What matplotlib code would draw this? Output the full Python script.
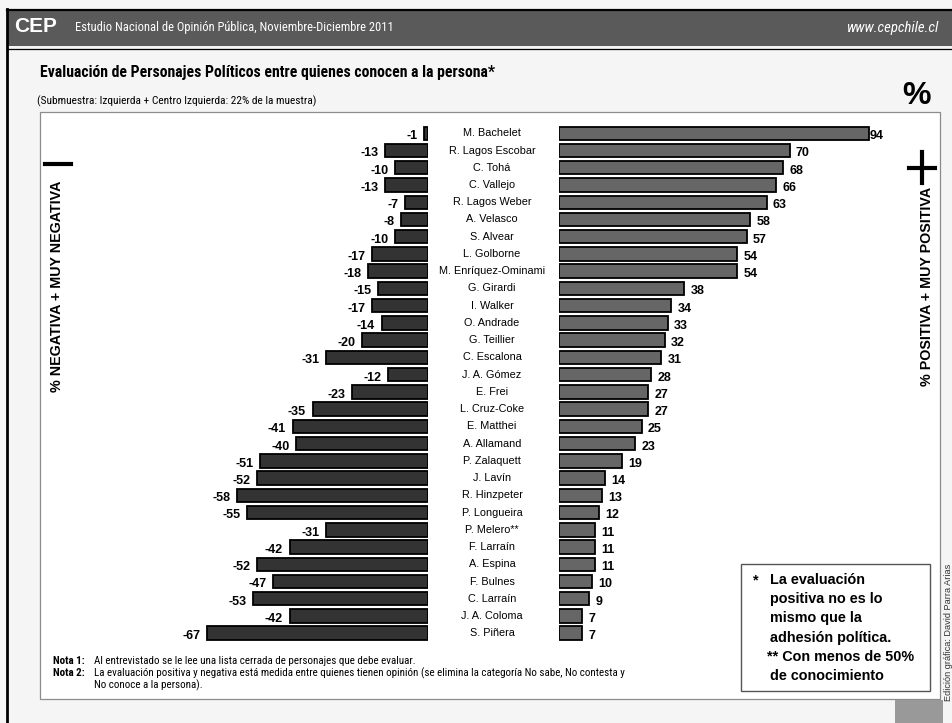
import matplotlib
matplotlib.use("Agg")
import matplotlib.pyplot as plt
from matplotlib import font_manager as fm
from matplotlib.patches import Rectangle
from matplotlib.lines import Line2D

W, H = 953, 723

names = ["M. Bachelet", "R. Lagos Escobar", "C. Tohá", "C. Vallejo", "R. Lagos Weber",
         "A. Velasco", "S. Alvear", "L. Golborne", "M. Enríquez-Ominami", "G. Girardi",
         "I. Walker", "O. Andrade", "G. Teillier", "C. Escalona", "J. A. Gómez",
         "E. Frei", "L. Cruz-Coke", "E. Matthei", "A. Allamand", "P. Zalaquett",
         "J. Lavín", "R. Hinzpeter", "P. Longueira", "P. Melero**", "F. Larraín",
         "A. Espina", "F. Bulnes", "C. Larraín", "J. A. Coloma", "S. Piñera"]
negativa = [-1, -13, -10, -13, -7, -8, -10, -17, -18, -15, -17, -14, -20, -31, -12,
            -23, -35, -41, -40, -51, -52, -58, -55, -31, -42, -52, -47, -53, -42, -67]
positiva = [94, 70, 68, 66, 63, 58, 57, 54, 54, 38, 34, 33, 32, 31, 28,
            27, 27, 25, 23, 19, 14, 13, 12, 11, 11, 11, 10, 9, 7, 7]

plt.rcParams["font.family"] = ["Liberation Sans", "DejaVu Sans"]

# look for a narrow face (the header/title/notes use Arial Narrow in the original)
avail = {f.name: f for f in fm.fontManager.ttflist}
narrow = {"family": ["Liberation Sans", "DejaVu Sans"]}
for cand in ["Liberation Sans Narrow", "Arial Narrow", "Roboto Condensed", "Open Sans Condensed",
             "DejaVu Sans Condensed"]:
    if cand in avail:
        narrow = {"family": [cand, "DejaVu Sans"]}
        break
else:
    for f in fm.fontManager.ttflist:
        if f.stretch in ("condensed", "semi-condensed") and f.name in ("Roboto", "Open Sans", "DejaVu Sans"):
            narrow = {"family": [f.name, "DejaVu Sans"], "stretch": f.stretch}
            break


def fx(x):
    return x / W


def fy(y):
    return 1 - y / H


fig = plt.figure(figsize=(W / 100, H / 100), dpi=100, facecolor="#f5f5f5")
renderer = fig.canvas.get_renderer()


def fit(txt, width_px):
    # shrink/grow the font so the text spans the same width as in the original
    bb = txt.get_window_extent(renderer)
    txt.set_fontsize(txt.get_fontsize() * width_px / bb.width)
    return txt


# frame and header
fig.patches.append(Rectangle((fx(40), fy(699)), fx(900), (699 - 112) / H, transform=fig.transFigure,
                             facecolor="white", edgecolor="#8c8c8c", lw=0.9, zorder=-5))
fig.patches.append(Rectangle((fx(7), fy(46)), fx(946), 36 / H, transform=fig.transFigure,
                             facecolor="#5a5a5a", edgecolor="none", zorder=-4))
fig.lines.append(Line2D([fx(7), 1], [fy(9.5), fy(9.5)], transform=fig.transFigure, color="black", lw=1.6))
fig.lines.append(Line2D([fx(7), 1], [fy(48.5), fy(48.5)], transform=fig.transFigure, color="black", lw=0.9))
fig.lines.append(Line2D([fx(7), fx(7)], [fy(9), 0], transform=fig.transFigure, color="black", lw=2))
fig.patches.append(Rectangle((fx(895), 0), fx(48), 23 / H, transform=fig.transFigure,
                             facecolor="#999999", edgecolor="none", zorder=-4))

fig.text(fx(14), fy(27), "CEP", color="white", fontsize=15, fontweight="heavy", va="center")
fit(fig.text(fx(75), fy(28), "Estudio Nacional de Opinión Pública, Noviembre-Diciembre 2011", color="white",
             fontsize=9.5, va="center", **narrow), 317)
fit(fig.text(fx(938), fy(28), "www.cepchile.cl", color="white", fontsize=9.5, style="italic",
             ha="right", va="center", **narrow), 93)

fit(fig.text(fx(40), fy(72), "Evaluación de Personajes Políticos entre quienes conocen a la persona*",
             fontsize=12, fontweight="bold", va="center", **narrow), 455)
fit(fig.text(fx(37), fy(101), "(Submuestra: Izquierda + Centro Izquierda: 22% de la muestra)",
             fontsize=8.8, va="center", **narrow), 280)
fig.text(fx(917), fy(96), "%", fontsize=23, fontweight="bold", ha="center", va="center")

# side labels
fig.lines.append(Line2D([fx(45), fx(71)], [fy(164), fy(164)], transform=fig.transFigure, color="black", lw=3))
fig.text(fx(57), fy(286), "% NEGATIVA + MUY NEGATIVA", rotation=90, fontsize=10.3, fontweight="bold",
         ha="center", va="center")
fig.lines.append(Line2D([fx(909), fx(935)], [fy(168), fy(168)], transform=fig.transFigure, color="black", lw=3))
fig.lines.append(Line2D([fx(922), fx(922)], [fy(152), fy(183)], transform=fig.transFigure, color="black", lw=3))
fig.text(fx(927), fy(286), "% POSITIVA + MUY POSITIVA", rotation=90, fontsize=10.3, fontweight="bold",
         ha="center", va="center")

# bar axes
scale = 3.29
top, bottom = 124.66, 641.84
n = len(names)
ys = list(range(n))

axl = fig.add_axes([fx(110), fy(bottom), fx(427.7 - 110), (bottom - top) / H])
axl.set_xlim(-(427.7 - 110) / scale, 0)
axr = fig.add_axes([fx(559.3), fy(bottom), fx(900 - 559.3), (bottom - top) / H])
axr.set_xlim(0, (900 - 559.3) / scale)
for ax in (axl, axr):
    ax.set_ylim(n - 0.5, -0.5)
    ax.axis("off")
    ax.patch.set_visible(False)

axl.barh(ys, negativa, height=0.78, color="#333333", edgecolor="black", lw=1.3)
axr.barh(ys, positiva, height=0.78, color="#666666", edgecolor="black", lw=1.3)

for y, v in zip(ys, negativa):
    axl.text(v - 2.0, y + 0.17, str(v), ha="right", va="center", fontsize=9, fontweight="bold")
for y, v in zip(ys, positiva):
    off = 0.3 if v > 90 else 1.9
    axr.text(v + off, y + 0.17, str(v), ha="left", va="center", fontsize=9, fontweight="bold")
for y, name in zip(ys, names):
    axr.text((492 - 559.3) / scale, y, name, ha="center", va="center", fontsize=7.8, clip_on=False)

# footnote box
fig.patches.append(Rectangle((fx(741), fy(691)), fx(189), (691 - 564) / H, transform=fig.transFigure,
                             facecolor="white", edgecolor="#555555", lw=1, zorder=2))
box_lines = [(753, "*"), (770, "La evaluación"), (770, "positiva no es lo"), (770, "mismo que la"),
             (770, "adhesión política."), (767, "** Con menos de 50%"), (770, "de conocimiento")]
box_y = [580, 580, 599, 618, 638, 657, 676]
for (x, t), y in zip(box_lines, box_y):
    fig.text(fx(x), fy(y), t, fontsize=10.4, fontweight="bold", va="center", zorder=3)

fig.text(fx(949), fy(632), "Edición gráfica: David Parra Arias", rotation=90, fontsize=6.6,
         color="#333333", ha="center", va="center")

# notes
nfs = 7.9
fig.text(fx(53), fy(661), "Nota 1:", fontsize=nfs, fontweight="bold", va="center", **narrow)
fig.text(fx(94), fy(661), "Al entrevistado se le lee una lista cerrada de personajes que debe evaluar.",
         fontsize=nfs, va="center", **narrow)
fig.text(fx(53), fy(673), "Nota 2:", fontsize=nfs, fontweight="bold", va="center", **narrow)
fig.text(fx(94), fy(673), "La evaluación positiva y negativa está medida entre quienes tienen opinión "
         "(se elimina la categoría No sabe, No contesta y", fontsize=nfs, va="center", **narrow)
fig.text(fx(94), fy(685), "No conoce a la persona).", fontsize=nfs, va="center", **narrow)

fig.savefig("out.png", dpi=100, facecolor=fig.get_facecolor())
